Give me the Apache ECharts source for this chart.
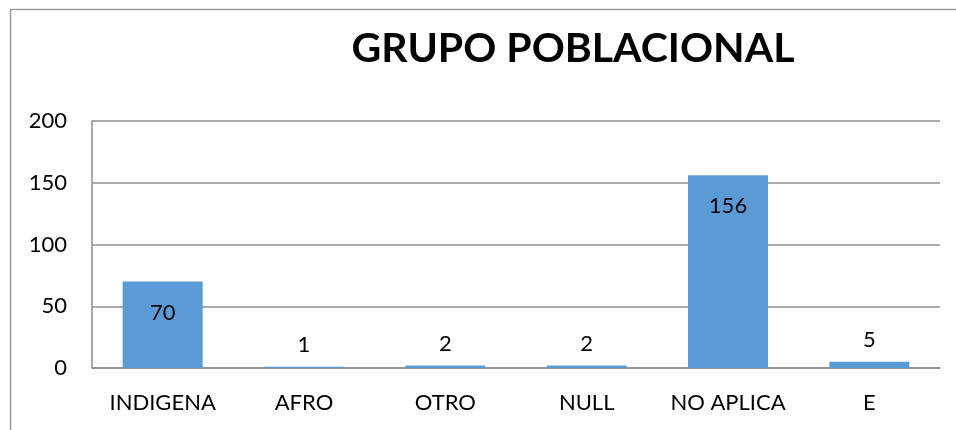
<!DOCTYPE html>
<html>
<head>
<meta charset="utf-8">
<script src="https://cdn.jsdelivr.net/npm/echarts@6/dist/echarts.min.js"></script>
<style>
  html, body { margin: 0; padding: 0; background: #fff; }
  #chart { width: 956px; height: 430px; }
</style>
</head>
<body>
<div id="chart"></div>
<script>
// Population group counts
const categories = ['INDIGENA', 'AFRO', 'OTRO', 'NULL', 'NO APLICA', 'E'];
const counts = [70, 1, 2, 2, 156, 5];
const yTicks = [0, 50, 100, 150, 200];

const FONT = 'Lato, "Liberation Sans", sans-serif';
const BAR_COLOR = '#5B9BD5';
const GRID_COLOR = '#8E8E8E';

// Big bars carry their label inside the top, small ones above.
const seriesData = counts.map(v => ({
  value: v,
  label: v > 20
    ? { position: 'insideTop', distance: 20 }
    : { position: 'top', distance: 11 }
}));

const chart = echarts.init(document.getElementById('chart'), null, { renderer: 'canvas' });
chart.setOption({
  animation: false,
  backgroundColor: '#fff',
  title: {
    text: 'GRUPO POBLACIONAL',
    left: 568,
    textAlign: 'center',
    top: 23,
    textStyle: { fontFamily: FONT, fontWeight: 'bold', fontSize: 41, color: '#000' }
  },
  graphic: [{
    type: 'rect',
    shape: { x: 10.5, y: 9.5, width: 1200, height: 800 },
    style: { fill: 'none', stroke: '#9A9A9A', lineWidth: 1.5 },
    silent: true
  }],
  grid: { left: 92, right: 16, top: 121, bottom: 62, containLabel: false },
  xAxis: {
    type: 'category',
    data: categories,
    axisLine: { show: true, lineStyle: { color: GRID_COLOR, width: 1.5 } },
    axisTick: { show: false },
    axisLabel: { interval: 0, fontFamily: FONT, fontSize: 22, color: '#000', margin: 24 }
  },
  yAxis: {
    type: 'value',
    min: yTicks[0],
    max: yTicks[yTicks.length - 1],
    interval: yTicks[1] - yTicks[0],
    axisLine: { show: true, lineStyle: { color: GRID_COLOR, width: 1.5 } },
    axisTick: { show: false },
    splitLine: { show: true, lineStyle: { color: GRID_COLOR, width: 1.5 } },
    axisLabel: { fontFamily: FONT, fontSize: 22, color: '#000', margin: 25 }
  },
  series: [{
    type: 'bar',
    data: seriesData,
    barWidth: 80,
    itemStyle: { color: BAR_COLOR },
    label: { show: true, fontFamily: FONT, fontSize: 22, color: '#000' }
  }]
});
</script>
</body>
</html>
